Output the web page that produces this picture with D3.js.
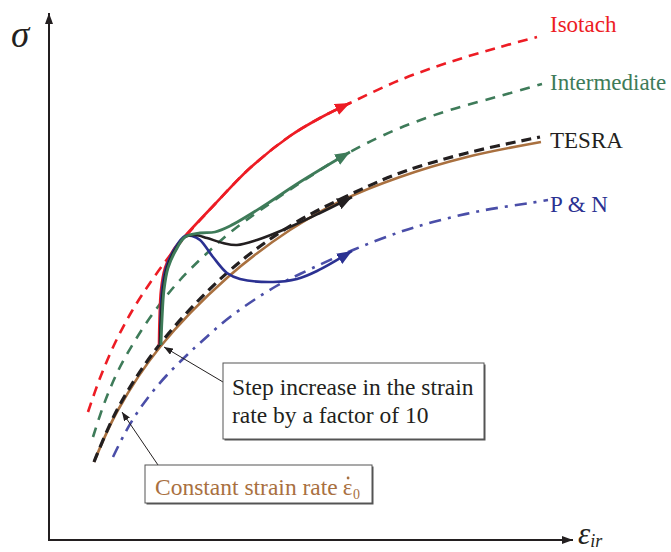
<!DOCTYPE html>
<html>
<head>
<meta charset="utf-8">
<script src="https://cdn.jsdelivr.net/npm/d3@7"></script>
<style>
  html, body { margin: 0; padding: 0; background: #fff; }
  svg { display: block; }
</style>
</head>
<body>
<svg id="chart" width="671" height="552" font-family="'Liberation Serif', 'DejaVu Serif', 'Times New Roman', serif"></svg>
<script>
// ---- data (arbitrary strain / stress units) ----
const constX   = [0.90, 1.38, 2.22, 3.58, 4.82, 5.88, 7.02, 8.36, 9.84];
const constY   = [1.56, 2.60, 3.86, 5.26, 6.20, 6.80, 7.26, 7.66, 7.96];

const tesraRefX = [0.90, 1.38, 2.22, 3.58, 4.82, 5.92, 7.02, 8.36, 9.82];
const tesraRefY = [1.56, 2.64, 3.92, 5.36, 6.28, 6.86, 7.34, 7.74, 8.06];

const isoX = [0.78, 1.02, 1.32, 1.66, 2.02, 2.38, 2.72, 3.32, 4.02, 4.82, 5.42, 6.02, 7.02, 8.02, 9.02, 9.76];
const isoY = [2.56, 3.24, 3.94, 4.58, 5.14, 5.64, 6.06, 6.72, 7.44, 8.08, 8.44, 8.74, 9.20, 9.56, 9.86, 10.06];

const interX = [0.88, 1.10, 1.38, 1.74, 2.16, 2.62, 3.12, 3.66, 4.26, 5.02, 6.02, 7.02, 8.02, 9.02, 9.86];
const interY = [2.06, 2.72, 3.38, 4.02, 4.64, 5.20, 5.70, 6.18, 6.62, 7.14, 7.76, 8.24, 8.60, 8.88, 9.12];

const pnX = [1.28, 1.52, 1.76, 2.02, 2.36, 2.76, 3.02, 3.62, 4.48, 5.02, 6.08, 7.02, 7.68, 8.62, 9.62, 9.98];
const pnY = [1.66, 2.14, 2.54, 2.90, 3.30, 3.70, 3.94, 4.46, 5.04, 5.32, 5.80, 6.16, 6.36, 6.58, 6.74, 6.80];

// responses to the step increase in strain rate
const isoStepX = [2.20, 2.21, 2.24, 2.32, 2.50, 2.72, 3.32, 4.02, 4.82, 5.42, 6.02];
const isoStepY = [3.90, 4.40, 5.00, 5.44, 5.82, 6.08, 6.72, 7.44, 8.08, 8.44, 8.74];

const interStepX = [2.24, 2.26, 2.30, 2.38, 2.54, 2.72, 3.02, 3.32, 3.62, 4.26, 5.02, 6.02];
const interStepY = [3.90, 4.40, 5.00, 5.44, 5.80, 6.06, 6.14, 6.16, 6.28, 6.66, 7.16, 7.76];

const tesraStepX = [2.22, 2.24, 2.28, 2.36, 2.52, 2.72, 2.92, 3.16, 3.48, 3.76, 4.16, 4.82, 5.42, 6.06];
const tesraStepY = [3.90, 4.40, 5.00, 5.44, 5.80, 6.06, 6.10, 6.04, 5.94, 5.90, 6.00, 6.26, 6.54, 6.86];

const pnStepX = [2.22, 2.23, 2.26, 2.34, 2.52, 2.72, 2.86, 3.02, 3.28, 3.56, 3.82, 4.48, 4.96, 5.36, 6.06];
const pnStepY = [3.90, 4.40, 5.00, 5.44, 5.84, 6.08, 6.08, 6.00, 5.66, 5.34, 5.22, 5.16, 5.22, 5.38, 5.78];

const seriesLabels = ["Isotach", "Intermediate", "TESRA", "P & N"];
const stepNote = ["Step increase in the strain", "rate by a factor of 10"];
const constNote = "Constant strain rate";

// ---- scales ----
const xScale = d3.scaleLinear().domain([0, 12]).range([49, 649]);
const yScale = d3.scaleLinear().domain([0, 10]).range([540, 40]);

const svg = d3.select("#chart");
const defs = svg.append("defs");

function marker(id, color, len, half) {
  defs.append("marker")
    .attr("id", id)
    .attr("markerUnits", "userSpaceOnUse")
    .attr("viewBox", `0 ${-half} ${len} ${2 * half}`)
    .attr("refX", len).attr("refY", 0)
    .attr("markerWidth", len).attr("markerHeight", 2 * half)
    .attr("orient", "auto")
    .append("path")
    .attr("d", `M0,${-half}L${len},0L0,${half}Z`)
    .attr("fill", color);
}

const C = {
  red: "#ed1c24",
  green: "#3e7b59",
  black: "#231f20",
  blue: "#2b3192",
  blueDash: "#4a4ea8",
  brown: "#a9703f"
};

marker("arrRed", C.red, 15, 6);
marker("arrGreen", C.green, 15, 6);
marker("arrBlack", C.black, 15, 6);
marker("arrBlue", C.blue, 15, 6);
marker("arrAxis", "#231f20", 11, 4);
marker("arrPtr", "#231f20", 9, 3.5);

const line = d3.line()
  .x(d => xScale(d[0]))
  .y(d => yScale(d[1]))
  .curve(d3.curveCatmullRom.alpha(0.5));

const zip = (xs, ys) => xs.map((x, i) => [x, ys[i]]);

// ---- axes ----
svg.append("line")
  .attr("x1", xScale(0)).attr("y1", yScale(0))
  .attr("x2", xScale(0)).attr("y2", yScale(10.54))
  .attr("stroke", "#231f20").attr("stroke-width", 2)
  .attr("marker-end", "url(#arrAxis)");
svg.append("line")
  .attr("x1", xScale(0) - 1).attr("y1", yScale(0))
  .attr("x2", xScale(10.48)).attr("y2", yScale(0))
  .attr("stroke", "#231f20").attr("stroke-width", 2)
  .attr("marker-end", "url(#arrAxis)");

svg.append("text").attr("x", 11).attr("y", 47)
  .attr("font-size", 37).attr("font-style", "italic").attr("fill", "#231f20")
  .text("σ");
const xl = svg.append("text").attr("x", 578).attr("y", 544)
  .attr("font-size", 31).attr("font-style", "italic").attr("fill", "#231f20");
xl.append("tspan").text("ε");
xl.append("tspan").attr("font-size", 18).attr("dy", 3).text("ir");

// ---- reference curves ----
function path(data, color, width, dash) {
  const p = svg.append("path")
    .attr("d", line(data))
    .attr("fill", "none")
    .attr("stroke", color)
    .attr("stroke-width", width)
    .attr("stroke-linecap", "butt");
  if (dash) p.attr("stroke-dasharray", dash);
  return p;
}

path(zip(isoX, isoY), C.red, 2.6, "10,7");
path(zip(interX, interY), C.green, 2.6, "10,8");
path(zip(pnX, pnY), C.blueDash, 2.6, "12,7,3,7");
path(zip(constX, constY), C.brown, 2.6, null);
path(zip(tesraRefX, tesraRefY), C.black, 3.2, "10,6");

// ---- step responses ----
path(zip(isoStepX, isoStepY), C.red, 2.6, null).attr("marker-end", "url(#arrRed)");
path(zip(pnStepX, pnStepY), C.blue, 2.6, null).attr("marker-end", "url(#arrBlue)");
path(zip(tesraStepX, tesraStepY), C.black, 2.6, null).attr("marker-end", "url(#arrBlack)");
path(zip(interStepX, interStepY), C.green, 2.8, null).attr("marker-end", "url(#arrGreen)");

// ---- series labels ----
const labelColors = [C.red, C.green, C.black, C.blue];
const labelYs = [32, 90, 148, 212];
seriesLabels.forEach((t, i) => {
  svg.append("text").attr("x", 550).attr("y", labelYs[i])
    .attr("font-size", 23).attr("fill", labelColors[i]).text(t);
});

// ---- annotation: step increase ----
svg.append("line")
  .attr("x1", 223).attr("y1", 382)
  .attr("x2", xScale(2.22) + 4).attr("y2", yScale(3.90) + 2)
  .attr("stroke", "#231f20").attr("stroke-width", 1)
  .attr("marker-end", "url(#arrPtr)");
svg.append("rect").attr("x", 224.5).attr("y", 364.5).attr("width", 261).attr("height", 76)
  .attr("fill", "#555");
svg.append("rect").attr("x", 223).attr("y", 363).attr("width", 261).attr("height", 76)
  .attr("fill", "#fff").attr("stroke", "#555").attr("stroke-width", 1);
stepNote.forEach((t, i) => {
  svg.append("text").attr("x", 232).attr("y", 395 + i * 28)
    .attr("font-size", 23.5).attr("fill", "#231f20").text(t);
});

// ---- annotation: constant strain rate ----
svg.append("line")
  .attr("x1", 158).attr("y1", 465)
  .attr("x2", xScale(1.38) + 4).attr("y2", yScale(2.60) + 2)
  .attr("stroke", "#231f20").attr("stroke-width", 1)
  .attr("marker-end", "url(#arrPtr)");
svg.append("rect").attr("x", 146.5).attr("y", 466.5).attr("width", 227).attr("height", 38)
  .attr("fill", "#555");
svg.append("rect").attr("x", 145).attr("y", 465).attr("width", 227).attr("height", 38)
  .attr("fill", "#fff").attr("stroke", "#555").attr("stroke-width", 1);
const ct = svg.append("text").attr("x", 155).attr("y", 495)
  .attr("font-size", 23.5).attr("fill", C.brown).text(constNote);
const w0 = ct.node().getComputedTextLength() + 5;
const eps = svg.append("text").attr("x", 155 + w0).attr("y", 495)
  .attr("font-size", 23).attr("fill", C.brown).text("ε");
const we = eps.node().getComputedTextLength();
svg.append("circle").attr("cx", 155 + w0 + we / 2 + 0.5).attr("cy", 478).attr("r", 1.4)
  .attr("fill", C.brown);
svg.append("text").attr("x", 155 + w0 + we + 0.5).attr("y", 499)
  .attr("font-size", 14).attr("fill", C.brown).text("0");
</script>
</body>
</html>
